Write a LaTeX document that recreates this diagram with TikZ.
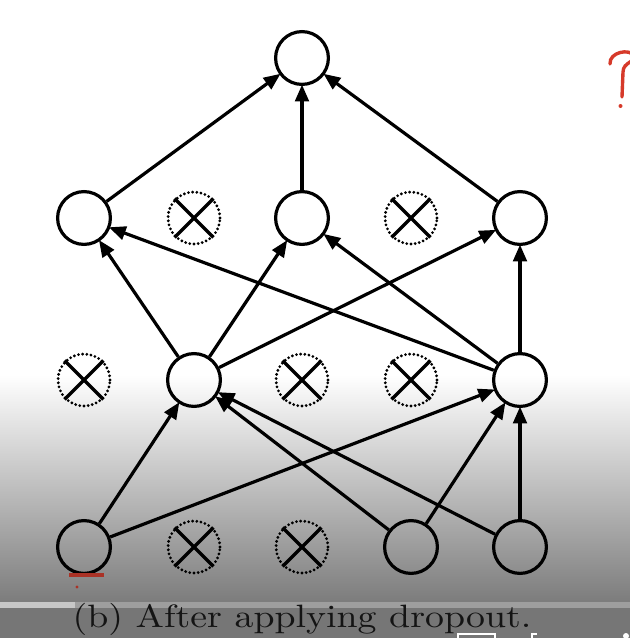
\documentclass[tikz,border=0pt]{standalone}
\usepackage{fontspec}
\usepackage{tikz}
\usetikzlibrary{arrows.meta}
\newfontfamily\capfont{lmroman10-regular.otf}
\definecolor{notered}{RGB}{214, 58, 42}
\definecolor{linered}{RGB}{170, 50, 38}
\definecolor{shadegray}{RGB}{124, 124, 124}
\definecolor{stripgray}{RGB}{158, 158, 158}
\definecolor{basegray}{RGB}{118, 118, 118}

\begin{document}
\begin{tikzpicture}[x=0.025cm, y=-0.025cm, >={Triangle[length=0.42cm, width=0.34cm]},
    unit/.style={circle, draw, line width=0.08cm, minimum size=1.32cm, inner sep=0pt},
    dropped/.style={circle, draw, line width=2.2pt, line cap=round, dash pattern=on 0pt off 3pt, minimum size=1.3cm, inner sep=0pt},
    link/.style={->, line width=0.08cm, shorten >=-1pt}]
  \useasboundingbox (0,0) rectangle (630,638);
  % screen background
  \fill[white] (0,0) rectangle (630,375);
  \shade[top color=white, bottom color=shadegray] (0,375) rectangle (630,602);
  \fill[black!22] (0,602) rectangle (75,608);
  \fill[stripgray] (75,602) rectangle (630,608);
  \fill[basegray] (0,608) rectangle (630,638);
  % units
  \node[unit] (t) at (302, 58) {};
  \foreach \x/\n in {84/1, 194/2, 302/3, 411/4, 520/5} {
    \coordinate (ch\n) at (\x, 218);
    \coordinate (cg\n) at (\x, 380);
    \coordinate (ci\n) at (\x, 547);
  }
  \foreach \n in {1, 3, 5} \node[unit] (h\n) at (ch\n) {};
  \foreach \n in {2, 5} \node[unit] (g\n) at (cg\n) {};
  \foreach \n in {1, 4, 5} \node[unit] (i\n) at (ci\n) {};
  % dropped units
  \foreach \c/\m in {ch2/d1, ch4/d2, cg1/d3, cg3/d4, cg4/d5, ci2/d6, ci3/d7} {
    \node[dropped] (\m) at (\c) {};
    \draw[line width=0.08cm] (\m.45) -- (\m.225) (\m.135) -- (\m.315);
  }
  % connections
  \foreach \a in {1, 3, 5} \draw[link] (h\a) -- (t);
  \foreach \a in {2, 5} \foreach \b in {1, 3, 5} \draw[link] (g\a) -- (h\b);
  \foreach \a in {1, 4, 5} \foreach \b in {2, 5} \draw[link] (i\a) -- (g\b);
  % caption
  \node[anchor=base, text=black!92, transform shape, xscale=1.17, font=\capfont\fontsize{23}{28}\selectfont] (cap) at (302, 627) {(b) After applying dropout.};
  % hand marks
  \draw[linered, line width=3pt] (69,575) -- (104,575);
  \fill[linered] (77,587) circle (1.6);
  \draw[notered, line width=2.4pt, line cap=round]
    (610,64) .. controls (609,52) and (630,48) .. (634,56)
    .. controls (636,62) and (623,62) .. (623,72) -- (622,97);
  \fill[notered] (620.5,106) circle (2);
  % player controls
  \draw[white, line width=1.5pt] (458,640) |- (495,634) -- (495,640);
  \draw[white, line width=1.5pt] (537,634) -- (532,634) -- (532,640);
  \fill[white] (626,636) circle (3);
\end{tikzpicture}
\end{document}
